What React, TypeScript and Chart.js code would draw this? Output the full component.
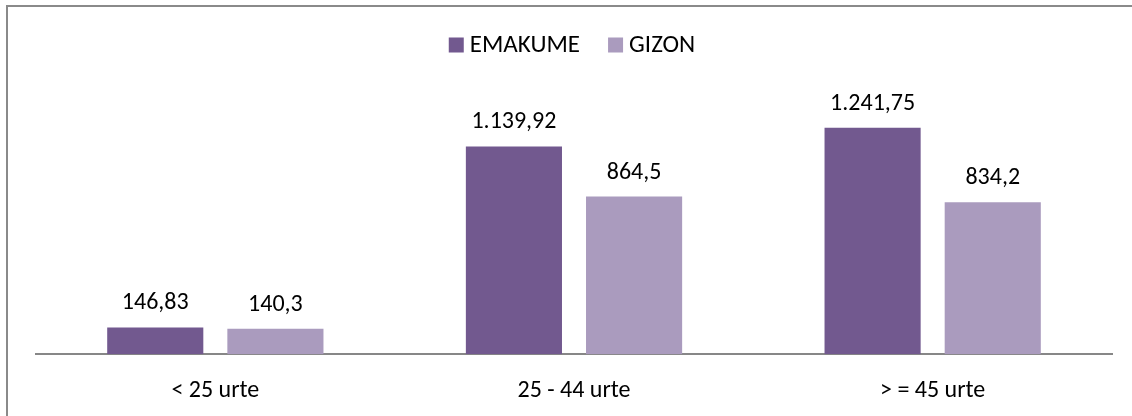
import React, { useEffect, useRef } from "react";
import { Chart, registerables } from "chart.js";

Chart.register(...registerables);

const categories = ["< 25 urte", "25 - 44 urte", "> = 45 urte"];
const seriesNames = ["EMAKUME", "GIZON"];
const emakumeValues = [146.83, 1139.92, 1241.75];
const gizonValues = [140.3, 864.5, 834.2];
const seriesColors = ["#72598F", "#AA9BBE"];

const FONT = "Carlito, Lato, 'Open Sans', sans-serif";
const FONT_SIZE = 24;
const LEGEND_FONT_SIZE = 25;

function fmt(v: number): string {
  const s = String(v);
  const [ip, dp] = s.split(".");
  const withDots = ip.replace(/\B(?=(\d{3})+(?!\d))/g, ".");
  return dp ? withDots + "," + dp : withDots;
}

const valueLabels = {
  id: "valueLabels",
  afterDatasetsDraw(chart: any) {
    const ctx = chart.ctx;
    ctx.save();
    ctx.font = `${FONT_SIZE}px ${FONT}`;
    ctx.fillStyle = "#000";
    ctx.textAlign = "center";
    ctx.textBaseline = "middle";
    chart.data.datasets.forEach((ds: any, i: number) => {
      const meta = chart.getDatasetMeta(i);
      meta.data.forEach((bar: any, j: number) => {
        ctx.fillText(fmt(ds.data[j]), bar.x, bar.y - 24);
      });
    });
    ctx.restore();
  },
};

const customLegend = {
  id: "customLegend",
  afterDraw(chart: any) {
    const ctx = chart.ctx;
    ctx.save();
    ctx.font = `${LEGEND_FONT_SIZE}px ${FONT}`;
    ctx.textBaseline = "middle";
    ctx.textAlign = "left";
    const box = 15;
    const gapText = 6;
    const gapItem = 28;
    const items = chart.data.datasets.map((ds: any) => ({
      text: ds.label,
      color: ds.backgroundColor,
      w: box + gapText + ctx.measureText(ds.label).width,
    }));
    const total = items.reduce((a: number, it: any) => a + it.w, 0) + gapItem * (items.length - 1);
    let x = (chart.width - total) / 2 + 6;
    const cy = 45;
    items.forEach((it: any) => {
      ctx.fillStyle = it.color;
      ctx.fillRect(x, cy - box / 2, box, box);
      ctx.fillStyle = "#000";
      ctx.fillText(it.text, x + box + gapText, cy + 1);
      x += it.w + gapItem;
    });
    ctx.restore();
  },
};

export default function App() {
  const ref = useRef<HTMLCanvasElement>(null);
  useEffect(() => {
    if (!ref.current) return;
    const chart = new Chart(ref.current, {
      type: "bar",
      data: {
        labels: categories,
        datasets: [
          { label: seriesNames[0], data: emakumeValues, backgroundColor: seriesColors[0] },
          { label: seriesNames[1], data: gizonValues, backgroundColor: seriesColors[1] },
        ],
      },
      options: {
        animation: false,
        responsive: false,
        maintainAspectRatio: false,
        layout: { padding: { left: 36, right: 20, top: 99, bottom: -11 } },
        plugins: { legend: { display: false }, tooltip: { enabled: false } },
        datasets: { bar: { barPercentage: 0.8, categoryPercentage: 0.67 } },
        scales: {
          y: { display: false, min: 0, max: 1400 },
          x: {
            grid: { display: false, drawTicks: false },
            border: { display: true, color: "#878787", width: 2 },
            ticks: { color: "#000", font: { family: FONT, size: FONT_SIZE }, padding: 22 },
          },
        },
      },
      plugins: [valueLabels, customLegend],
    });
    return () => chart.destroy();
  }, []);
  return (
    <div style={{ position: "fixed", left: 0, top: 0, width: 1132, height: 416, overflow: "hidden", background: "#fff" }}>
      <div style={{ position: "absolute", left: 6, top: 5, width: 1200, height: 500, border: "2px solid #8a8a8a", boxSizing: "border-box" }} />
      <canvas ref={ref} width={1132} height={416} style={{ position: "absolute", left: 0, top: 0, width: 1132, height: 416 }} />
    </div>
  );
}
